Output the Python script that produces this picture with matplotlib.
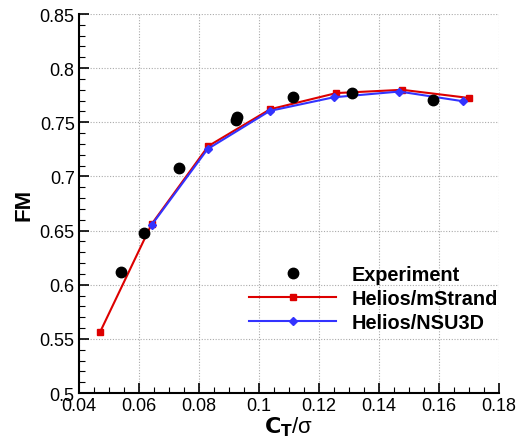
import matplotlib
matplotlib.use("Agg")
import matplotlib.pyplot as plt
from matplotlib.ticker import MultipleLocator

plt.rcParams['font.family'] = ['Liberation Sans', 'DejaVu Sans']

exp_ct = [0.0539, 0.0616, 0.0733, 0.0924, 0.0928, 0.1114, 0.1309, 0.1579]
exp_fm = [0.612, 0.648, 0.708, 0.752, 0.755, 0.773, 0.7775, 0.771]

ms_ct = [0.0471, 0.0642, 0.0831, 0.1037, 0.1258, 0.1478, 0.1699]
ms_fm = [0.5565, 0.6558, 0.728, 0.762, 0.777, 0.780, 0.7725]

ns_ct = [0.0642, 0.0829, 0.1036, 0.1249, 0.1468, 0.1681]
ns_fm = [0.655, 0.7253, 0.7605, 0.7731, 0.7784, 0.7694]

xticks = [0.04, 0.06, 0.08, 0.10, 0.12, 0.14, 0.16, 0.18]
xtick_labels = ['0.04', '0.06', '0.08', '0.1', '0.12', '0.14', '0.16', '0.18']
yticks = [0.5, 0.55, 0.6, 0.65, 0.7, 0.75, 0.8, 0.85]
ytick_labels = ['0.5', '0.55', '0.6', '0.65', '0.7', '0.75', '0.8', '0.85']

fig = plt.figure(figsize=(5.19, 4.39), dpi=100)
ax = fig.add_axes([0.152, 0.1025, 0.8095, 0.8633])

ax.plot(exp_ct, exp_fm, 'o', color='black', markersize=7.5, linestyle='none', label='Experiment', zorder=5)
ax.plot(ms_ct, ms_fm, '-s', color='#dd0000', markersize=4.5, linewidth=1.5, label='Helios/mStrand', zorder=3)
ax.plot(ns_ct, ns_fm, '-D', color='#3333ff', markersize=3.8, linewidth=1.5, label='Helios/NSU3D', zorder=4)

ax.set_xlim(0.04, 0.18)
ax.set_ylim(0.5, 0.85)
ax.set_xticks(xticks)
ax.set_yticks(yticks)
ax.set_xticklabels(xtick_labels, fontsize=13)
ax.set_yticklabels(ytick_labels, fontsize=13)
ax.xaxis.set_minor_locator(MultipleLocator(0.005))
ax.yaxis.set_minor_locator(MultipleLocator(0.01))

ax.tick_params(which='major', direction='in', length=7, width=1.2, top=False, right=False, pad=3)
ax.tick_params(which='minor', direction='in', length=4, width=0.8, top=False, right=False)

for s in ['top', 'right']:
    ax.spines[s].set_visible(False)
for s in ['left', 'bottom']:
    ax.spines[s].set_linewidth(1.5)

ax.grid(True, which='major', linestyle=(0, (1, 1.5)), color='#aaaaaa', linewidth=0.8)
ax.set_axisbelow(True)

ax.set_xlabel(r'$\mathbf{C_T}$/σ', fontsize=16, labelpad=0)
ax.set_ylabel('FM', fontsize=16, fontweight='bold', labelpad=4)

leg = ax.legend(loc='center left', bbox_to_anchor=(0.362, 0.250), frameon=False,
                prop={'weight': 'bold', 'size': 14.3}, handlelength=4.4,
                handletextpad=0.75, labelspacing=0.25)

fig.savefig('out.png', dpi=100)
